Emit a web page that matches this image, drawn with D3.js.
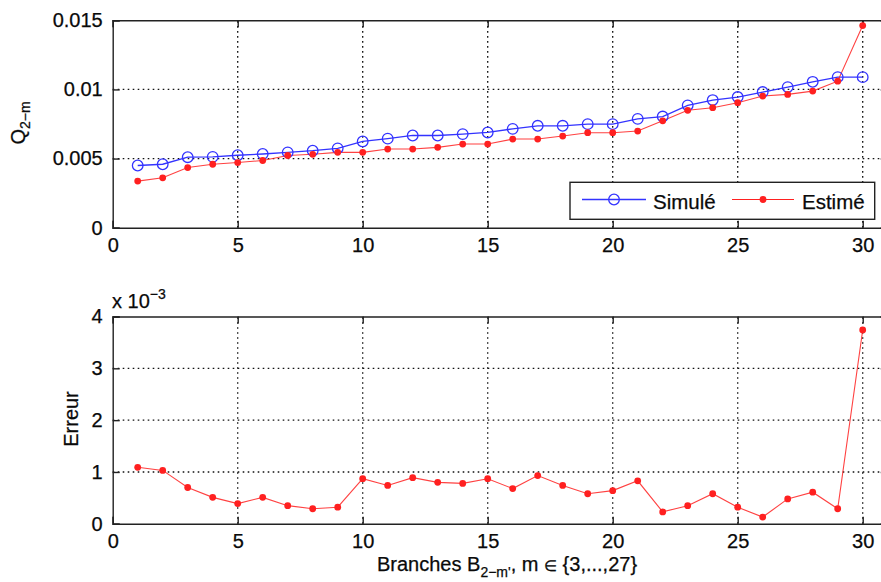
<!DOCTYPE html>
<html>
<head>
<meta charset="utf-8">
<script src="https://cdn.jsdelivr.net/npm/d3@7"></script>
<style>
  html, body { margin: 0; padding: 0; background: #fff; overflow: hidden; }
  svg { display: block; font-family: "Liberation Sans", Arial, Helvetica, sans-serif; }
</style>
</head>
<body>
<svg id="chart" width="881" height="582"></svg>
<script>
// ---------- data ----------
const branches = d3.range(1, 31);
const simule = [0.00450, 0.00459, 0.00510, 0.00512, 0.00524, 0.00533, 0.00545, 0.00557, 0.00574, 0.00624,
                0.00644, 0.00667, 0.00667, 0.00677, 0.00689, 0.00715, 0.00737, 0.00737, 0.00749, 0.00749,
                0.00787, 0.00804, 0.00885, 0.00923, 0.00945, 0.00981, 0.01017, 0.01055, 0.01089, 0.01089];
const estime = [0.00337, 0.00361, 0.00435, 0.00459, 0.00471, 0.00486, 0.00522, 0.00531, 0.00545, 0.00545,
                0.00569, 0.00569, 0.00581, 0.00605, 0.00605, 0.00641, 0.00641, 0.00663, 0.00687, 0.00687,
                0.00699, 0.00773, 0.00849, 0.00868, 0.00904, 0.00952, 0.00964, 0.00988, 0.01060, 0.01462];
// error in units of 1e-3
const erreur = [1.09, 1.03, 0.70, 0.51, 0.39, 0.51, 0.35, 0.29, 0.32, 0.87,
                0.74, 0.89, 0.80, 0.78, 0.87, 0.68, 0.93, 0.74, 0.58, 0.64,
                0.83, 0.23, 0.35, 0.58, 0.32, 0.13, 0.48, 0.61, 0.29, 3.74];
const xTicks = [0, 5, 10, 15, 20, 25, 30];
const topYTicks = [0, 0.005, 0.01, 0.015];
const topYLabels = ["0", "0.005", "0.01", "0.015"];
const botYTicks = [0, 1, 2, 3, 4];
const legendLabels = ["Simulé", "Estimé"];

// ---------- layout ----------
const svg = d3.select("#chart");
const FS = 20;
const left = 112.7, right = 887.7;
const x = d3.scaleLinear().domain([0, 31]).range([left, right]);
const yTop = d3.scaleLinear().domain([0, 0.015]).range([227.7, 20.3]);
const yBot = d3.scaleLinear().domain([0, 4]).range([523.8, 316.5]);

const AX = "#222";
const BLUE = "#3333ff", RED = "#ff2020";
const TXT = "#0a0a0a";

function panel(y, yTicks, yFmt) {
  const g = svg.append("g");
  const [y0, y1] = y.range();
  // grid
  g.append("g").selectAll("line").data(xTicks.filter(t => t > 0)).join("line")
    .attr("x1", d => x(d)).attr("x2", d => x(d)).attr("y1", y0).attr("y2", y1)
    .attr("stroke", "#111").attr("stroke-width", 1.3).attr("stroke-dasharray", "1.6,3.4");
  g.append("g").selectAll("line").data(yTicks.filter(t => t > y.domain()[0] && t < y.domain()[1])).join("line")
    .attr("x1", left).attr("x2", right).attr("y1", d => y(d)).attr("y2", d => y(d))
    .attr("stroke", "#111").attr("stroke-width", 1.3).attr("stroke-dasharray", "1.6,3.4");
  // axes
  const ax = g.append("g").attr("transform", `translate(0,${y0})`)
    .call(d3.axisBottom(x).tickValues(xTicks).tickSize(-7).tickPadding(10).tickFormat(d3.format("d")));
  const axT = g.append("g").attr("transform", `translate(0,${y1})`)
    .call(d3.axisTop(x).tickValues(xTicks).tickSize(-7).tickFormat(""));
  const ay = g.append("g").attr("transform", `translate(${left},0)`)
    .call(d3.axisLeft(y).tickValues(yTicks).tickSize(-7).tickPadding(10).tickFormat(yFmt));
  const ayR = g.append("g").attr("transform", `translate(${right},0)`)
    .call(d3.axisRight(y).tickValues(yTicks).tickSize(-7).tickFormat(""));
  [ax, axT, ay, ayR].forEach(a => {
    a.selectAll("path").attr("stroke", AX).attr("stroke-width", 1.4);
    a.selectAll("line").attr("stroke", AX).attr("stroke-width", 1.4);
    a.selectAll("text").attr("font-size", FS).attr("fill", TXT)
      .attr("stroke", TXT).attr("stroke-width", 0.25)
      .attr("font-family", "'Liberation Sans', Arial, sans-serif");
  });
  return g;
}

// ---------- top panel ----------
const gTop = panel(yTop, topYTicks, (d, i) => topYLabels[i]);
const lineTop = (arr) => d3.line().x((d, i) => x(branches[i])).y(d => yTop(d))(arr);
gTop.append("path").attr("d", lineTop(simule)).attr("fill", "none").attr("stroke", BLUE).attr("stroke-width", 1.3);
gTop.append("path").attr("d", lineTop(estime)).attr("fill", "none").attr("stroke", RED).attr("stroke-width", 1.1).attr("stroke-opacity", 0.85);
gTop.append("g").selectAll("circle").data(simule).join("circle")
  .attr("cx", (d, i) => x(branches[i])).attr("cy", d => yTop(d)).attr("r", 5.3)
  .attr("fill", "none").attr("stroke", BLUE).attr("stroke-width", 1.3);
gTop.append("g").selectAll("circle").data(estime).join("circle")
  .attr("cx", (d, i) => x(branches[i])).attr("cy", d => yTop(d)).attr("r", 3.4)
  .attr("fill", RED);

// y label top
const qLab = svg.append("text").attr("transform", "translate(25,123) rotate(-90)")
  .attr("text-anchor", "middle").attr("font-size", FS).attr("fill", TXT).attr("stroke", TXT).attr("stroke-width", 0.25);
qLab.append("tspan").text("Q");
qLab.append("tspan").attr("font-size", 14).attr("dy", 5).text("2−m");

// legend
const lg = svg.append("g");
lg.append("rect").attr("x", 570).attr("y", 182.3).attr("width", 304.7).attr("height", 37)
  .attr("fill", "#fff").attr("stroke", AX).attr("stroke-width", 1.4);
const legY = 199.5;
lg.append("line").attr("x1", 582).attr("x2", 646).attr("y1", legY).attr("y2", legY).attr("stroke", BLUE).attr("stroke-width", 1.3);
lg.append("circle").attr("cx", 614).attr("cy", legY).attr("r", 5.3).attr("fill", "none").attr("stroke", BLUE).attr("stroke-width", 1.3);
lg.append("text").attr("x", 653).attr("y", 209).attr("font-size", 20.5).attr("fill", TXT).attr("stroke", TXT).attr("stroke-width", 0.25).text(legendLabels[0]);
lg.append("line").attr("x1", 732).attr("x2", 794).attr("y1", legY).attr("y2", legY).attr("stroke", RED).attr("stroke-width", 1.1);
lg.append("circle").attr("cx", 763).attr("cy", legY).attr("r", 3.4).attr("fill", RED);
lg.append("text").attr("x", 802).attr("y", 209).attr("font-size", 20.5).attr("fill", TXT).attr("stroke", TXT).attr("stroke-width", 0.25).text(legendLabels[1]);

// ---------- bottom panel ----------
const gBot = panel(yBot, botYTicks, d3.format("d"));
const lineBot = d3.line().x((d, i) => x(branches[i])).y(d => yBot(d));
gBot.append("path").attr("d", lineBot(erreur)).attr("fill", "none").attr("stroke", RED).attr("stroke-width", 1.1).attr("stroke-opacity", 0.85);
gBot.append("g").selectAll("circle").data(erreur).join("circle")
  .attr("cx", (d, i) => x(branches[i])).attr("cy", d => yBot(d)).attr("r", 3.4)
  .attr("fill", RED);

// exponent
const ex = svg.append("text").attr("x", 112).attr("y", 308).attr("font-size", FS).attr("fill", TXT).attr("stroke", TXT).attr("stroke-width", 0.25);
ex.append("tspan").text("x 10");
ex.append("tspan").attr("font-size", 14).attr("dy", -9).text("−3");

// y label bottom
svg.append("text").attr("transform", "translate(78,419) rotate(-90)")
  .attr("text-anchor", "middle").attr("font-size", FS).attr("fill", TXT).attr("stroke", TXT).attr("stroke-width", 0.25).text("Erreur");

// x label
const xl = svg.append("text").attr("x", 377).attr("y", 571).attr("font-size", FS).attr("fill", TXT).attr("stroke", TXT).attr("stroke-width", 0.25);
xl.append("tspan").text("Branches B");
xl.append("tspan").attr("font-size", 14).attr("dy", 6).text("2−m'");
xl.append("tspan").attr("dy", -6).text(", m ");
xl.append("tspan").attr("font-size", 15).text("∈");
xl.append("tspan").text(" {3,...,27}");
</script>
</body>
</html>
